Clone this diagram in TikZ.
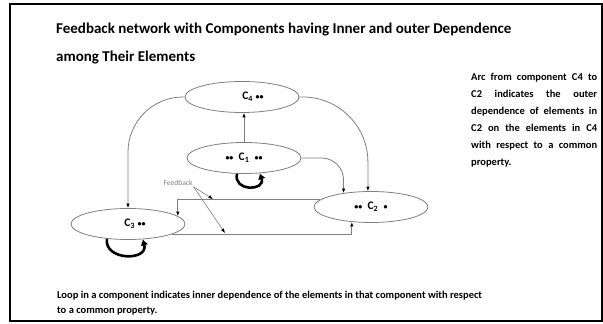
\documentclass[tikz,border=0pt]{standalone}
\usepackage{fontspec}
\setmainfont{Carlito}
\usetikzlibrary{arrows.meta,shapes.geometric}
\definecolor{linegray}{HTML}{7F7F7F}
\newcommand{\dd}{{\fontsize{8}{8}\selectfont ••}}
\newcommand{\sd}{{\fontsize{8}{8}\selectfont •}}

\begin{document}
\begin{tikzpicture}[x=1pt,y=1pt,
  txt/.style={inner sep=0pt,font=\bfseries\fontsize{10.5}{15}\selectfont,align=left},
  comp/.style={ellipse,draw=linegray,line width=0.8pt,minimum width=114pt,minimum height=31pt,inner sep=1pt,font=\bfseries\fontsize{11.5}{11.5}\selectfont},
  link/.style={linegray,line width=0.8pt,-{Latex[length=4.5pt,width=3.5pt,color=black]}},
  selfloop/.style={black,line width=2.6pt,-{Latex[length=6pt,width=8pt]}}]
\useasboundingbox (0,0) rectangle (603,324);
\draw[line width=1.5pt] (10,3) rectangle (602,320);
% title and notes
\node[txt,anchor=west,font=\bfseries\fontsize{15}{15}\selectfont] (title) at (56,294) {Feedback network with Components having Inner and outer Dependence};
\node[txt,anchor=west,font=\bfseries\fontsize{15}{15}\selectfont] (title2) at (56,266) {among Their Elements};
\node[txt,anchor=north west,font=\bfseries\fontsize{10.5}{17}\selectfont] (note) at (471,251) {%
  \makebox[126pt][s]{Arc from component C4 to}\\
  \makebox[126pt][s]{C2 indicates the outer}\\
  \makebox[126pt][s]{dependence of elements in}\\
  \makebox[126pt][s]{C2 on the elements in C4}\\
  \makebox[126pt][s]{with respect to a common}\\
  property.};
\node[txt,anchor=north west] (loopnote) at (57,33) {Loop in a component indicates inner dependence of the elements in that component with respect\\to a common property.};
% components
\node[comp] (c4) at (242,227) {\hspace*{22pt}C\textsubscript{4} \dd};
\node[comp] (c1) at (244,166) {\dd\ \ C\textsubscript{1}\ \ \dd};
\node[comp] (c2) at (371,117) {\dd\ \ C\textsubscript{2}\ \ \sd};
\node[comp] (c3) at (128,100) {\hspace*{14pt}C\textsubscript{3} \dd};
% outer dependence
\draw[link] (c1.north) -- (c1.north |- c4.south);
\draw[link,rounded corners=55pt] (c4.west) -| (c3.north);
\draw[link,rounded corners=65pt] (c4.east) -| (c2.101);
\draw[link,rounded corners=22pt] (c1.east) -| (c2.153);
% feedback
\draw[link] (c2.172) -| (c3.9);
\draw[link] (c3.-13) -| (c2.218);
\node[inner sep=1pt,text=linegray,font=\fontsize{7.5}{8}\selectfont] (fb) at (178,141) {Feedback};
\coordinate (fbtop) at (213,125);
\coordinate (fbbot) at (225,91);
\draw[link,line width=0.6pt] (fb.south east) -- (fbtop);
\draw[link,line width=0.6pt] (fb.south east) -- (fbbot);
% inner dependence
\draw[selfloop] (c1.-114) .. controls +(-4,-18) and +(6,-18) .. (c1.-44);
\draw[selfloop] (c3.-145) .. controls +(-3,-22) and +(6,-22) .. (c3.-46);
\end{tikzpicture}
\end{document}
